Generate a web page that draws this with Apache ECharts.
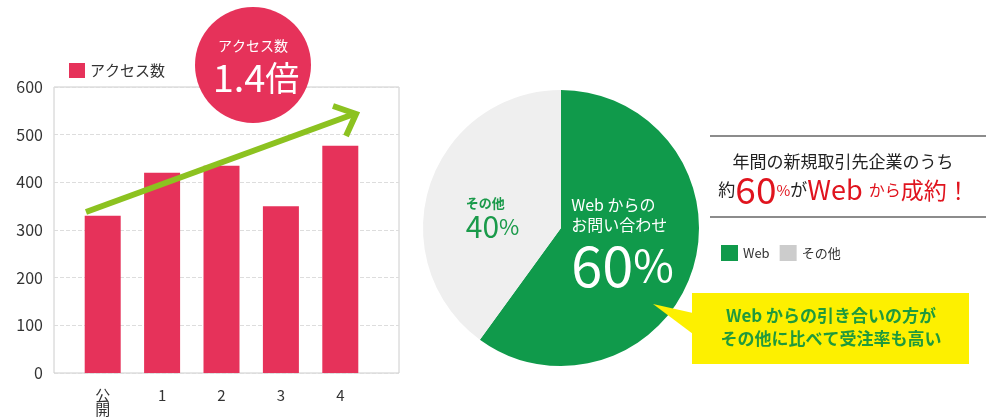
<!DOCTYPE html>
<html><head><meta charset="utf-8">
<script src="https://cdn.jsdelivr.net/npm/echarts@6/dist/echarts.min.js"></script>
<style>html,body{margin:0;padding:0;background:#fff;}#c{width:1004px;height:419px;}</style>
</head><body><div id="c"></div>
<script>
var barCategories = ['公\n開', '1', '2', '3', '4'];
var barValues = [330, 420, 435, 350, 477];
var yTicks = [0, 100, 200, 300, 400, 500, 600];
var pieNames = ['Web', 'その他'];
var pieValues = [60, 40];
var pieColors = ['#109a4b', '#efefef'];
var FONT = '"Noto Sans CJK JP", "Noto Sans", sans-serif';

var chart = echarts.init(document.getElementById('c'), null, {renderer: 'canvas'});
var option = {
  animation: false,
  textStyle: {fontFamily: FONT},
  legend: [
    {data: ['アクセス数'], left: 64, top: 58, icon: 'rect', itemWidth: 16, itemHeight: 15, itemGap: 10,
     textStyle: {fontSize: 15, color: '#333', fontFamily: FONT}, selectedMode: false},
    {data: [{name: 'Web', itemStyle: {color: '#109a4b'}}, {name: 'その他', itemStyle: {color: '#cccccc'}}],
     left: 716, top: 240, icon: 'rect', itemWidth: 17, itemHeight: 16, itemGap: 10,
     textStyle: {fontSize: 13, color: '#333', fontFamily: FONT}, selectedMode: false}
  ],
  grid: [
    {left: 54, top: 87, width: 345, height: 286, show: true, borderColor: '#cccccc', borderWidth: 1, containLabel: false},
    {left: 73, top: 87, width: 297, height: 286, containLabel: false}
  ],
  xAxis: [
    {type: 'category', gridIndex: 0, data: [''], show: false},
    {type: 'category', gridIndex: 1, data: barCategories,
     axisLine: {show: false}, axisTick: {show: false},
     axisLabel: {fontSize: 15, color: '#333', margin: 15, lineHeight: 14, fontFamily: FONT, interval: 0}}
  ],
  yAxis: [
    {type: 'value', gridIndex: 0, min: yTicks[0], max: yTicks[yTicks.length - 1], interval: 100,
     axisLine: {show: false}, axisTick: {show: false},
     axisLabel: {fontSize: 16, color: '#333', margin: 11, fontFamily: FONT},
     splitLine: {show: true, lineStyle: {type: 'dashed', color: '#dddddd', width: 1}}},
    {type: 'value', gridIndex: 1, min: 0, max: 600, show: false, splitLine: {show: false}}
  ],
  series: [
    {type: 'bar', name: 'アクセス数', xAxisIndex: 1, yAxisIndex: 1, data: barValues, barWidth: 36,
     itemStyle: {color: '#e6325a'}, silent: true, z: 2},
    {type: 'pie', name: 'share', center: [561, 228], radius: 138, startAngle: 90, silent: true,
     data: pieNames.map(function (n, i) { return {name: n, value: pieValues[i], itemStyle: {color: pieColors[i]}}; }),
     labelLine: {show: false},
     label: {
       show: true, position: 'inside',
       formatter: function (p) {
         if (p.dataIndex === 0) return '{a|Web からの}\n{a|お問い合わせ}\n{b|' + p.value + '}{c|%}';
         return '{d|その他}\n{e|' + p.value + '}{f|%}';
       },
       rich: {
         a: {fontSize: 16, lineHeight: 20, color: '#fff', fontFamily: FONT, align: 'left'},
         b: {fontSize: 56, lineHeight: 60, color: '#fff', fontFamily: FONT, align: 'left'},
         c: {fontSize: 44, lineHeight: 60, color: '#fff', fontFamily: FONT, align: 'left'},
         d: {fontSize: 13, lineHeight: 18, color: '#1a9a4a', fontWeight: 'bold', fontFamily: FONT, align: 'left'},
         e: {fontSize: 30, lineHeight: 30, color: '#1a9a4a', fontFamily: FONT, align: 'left'},
         f: {fontSize: 22, lineHeight: 30, color: '#1a9a4a', fontFamily: FONT, align: 'left'}
       }
     },
     labelLayout: function (p) {
       if (p.dataIndex === 0) return {dx: -7, dy: -5};
       return {dx: 0, dy: 12};
     }}
  ],
  graphic: [
    {type: 'polyline', z: 100, shape: {points: [[86, 212], [354, 114]]},
     style: {stroke: '#8cc220', lineWidth: 6, fill: null}},
    {type: 'polyline', z: 100, shape: {points: [[333, 106], [356, 114], [346, 136]]},
     style: {stroke: '#8cc220', lineWidth: 6, fill: null, lineJoin: 'miter'}},
    {type: 'circle', z: 110, shape: {cx: 253, cy: 65, r: 58}, style: {fill: '#e6325a'}},
    {type: 'text', z: 111, style: {text: 'アクセス数', x: 253, y: 46, align: 'center', verticalAlign: 'middle',
      fill: '#fff', font: '14px ' + FONT}},
    {type: 'text', z: 111, style: {text: '{n|1.4}{k|倍}', x: 256, y: 78, align: 'center', verticalAlign: 'middle',
      rich: {n: {fontSize: 38, fill: '#fff', fontFamily: FONT, lineHeight: 44}, k: {fontSize: 34, fill: '#fff', fontFamily: FONT, lineHeight: 44}}}},
    {type: 'line', shape: {x1: 710, y1: 136, x2: 986, y2: 136}, style: {stroke: '#666', lineWidth: 1.5}},
    {type: 'line', shape: {x1: 710, y1: 217, x2: 986, y2: 217}, style: {stroke: '#666', lineWidth: 1.5}},
    {type: 'text', style: {text: '年間の新規取引先企業のうち', x: 843, y: 162, align: 'center', verticalAlign: 'middle',
      fill: '#222', font: '17px ' + FONT}},
    {type: 'text', style: {text: '{k|約}{r|60}{p|%}{k|が}{w|Web }{s|から}{t|成約！}', x: 844, y: 190, align: 'center', verticalAlign: 'middle',
      rich: {
        k: {fontSize: 17, fill: '#222', fontFamily: FONT, lineHeight: 36},
        r: {fontSize: 37, fill: '#e0141e', fontFamily: FONT, lineHeight: 36},
        p: {fontSize: 15, fill: '#e0141e', fontFamily: FONT, lineHeight: 36},
        w: {fontSize: 27, fill: '#e0141e', fontFamily: FONT, lineHeight: 36},
        s: {fontSize: 16, fill: '#e0141e', fontFamily: FONT, lineHeight: 36},
        t: {fontSize: 23, fill: '#e0141e', fontFamily: FONT, lineHeight: 36}
      }}},
    {type: 'polygon', z: 50, shape: {points: [[653, 304], [693, 313], [693, 334]]}, style: {fill: '#fdf000'}},
    {type: 'rect', z: 50, shape: {x: 692, y: 293, width: 277, height: 71}, style: {fill: '#fdf000'}},
    {type: 'text', z: 51, style: {text: 'Web からの引き合いの方が\nその他に比べて受注率も高い', x: 831, y: 327, align: 'center', verticalAlign: 'middle',
      fill: '#1f9a3c', font: 'bold 17px ' + FONT, lineHeight: 23}}
  ]
};
chart.setOption(option);
</script>
</body></html>
